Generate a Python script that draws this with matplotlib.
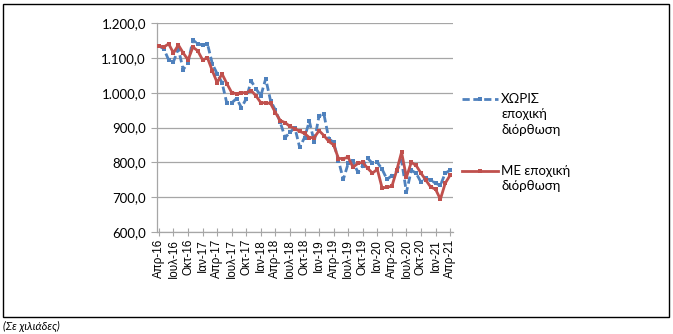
import matplotlib
matplotlib.use('Agg')
import matplotlib.pyplot as plt
import matplotlib.ticker as ticker
from matplotlib.lines import Line2D
from matplotlib.patches import Rectangle
import numpy as np

# Monthly series, Apr-16 .. Apr-21 (thousands)
months = ['Απρ', 'Μαϊ', 'Ιουν', 'Ιουλ', 'Αυγ', 'Σεπ',
          'Οκτ', 'Νοε', 'Δεκ', 'Ιαν', 'Φεβ', 'Μαρ']
without_adj = [1134, 1126, 1094, 1089, 1126, 1066, 1086, 1151, 1140, 1137,
               1140, 1083, 1054, 1029, 969, 971, 983, 957, 983, 1034,
               1011, 991, 1040, 977, 950, 915, 871, 886, 900, 843,
               871, 918, 859, 934, 938, 868, 857, 805, 751, 797,
               803, 771, 790, 812, 797, 800, 780, 751, 762, 775,
               805, 714, 777, 769, 743, 754, 749, 740, 734, 769,
               777]
with_adj = [1134, 1131, 1140, 1114, 1137, 1114, 1094, 1131, 1120, 1094,
            1100, 1063, 1029, 1054, 1026, 1000, 997, 1000, 1000, 1006,
            991, 971, 971, 969, 943, 920, 914, 903, 897, 889,
            883, 871, 871, 891, 877, 860, 850, 811, 811, 814,
            786, 797, 800, 783, 769, 780, 726, 729, 731, 777,
            829, 757, 800, 791, 769, 749, 729, 723, 694, 740,
            763]

labels_all = []
for i in range(len(with_adj)):
    name = months[i % 12]
    yr = 16 + (3 + i) // 12
    labels_all.append(f'{name}-{yr}')

label_font = 'Lato'
blue = '#4f81bd'
red = '#c0504d'
grid_col = '#a6a6a6'

fig = plt.figure(figsize=(6.73, 3.34), dpi=100)
ax = fig.add_axes([157 / 673, 1 - 232 / 334, 296 / 673, 209 / 334])

x = np.arange(len(with_adj))
ax.plot(x, without_adj, color=blue, lw=2.0, dashes=(2.6, 1.3),
        marker='s', markersize=2.6, markeredgewidth=0, zorder=3)
ax.plot(x, with_adj, color=red, lw=2.0,
        marker='s', markersize=3.2, markeredgewidth=0, zorder=4)

ax.set_ylim(600, 1200)
ax.set_xlim(-0.4, 60.6)
ax.yaxis.set_major_locator(ticker.MultipleLocator(100))
ax.yaxis.set_major_formatter(ticker.FuncFormatter(
    lambda v, p: f'{v:,.1f}'.replace(',', 'X').replace('.', ',').replace('X', '.')))

tick_pos = x[::3]
ax.set_xticks(tick_pos)
ax.set_xticklabels([labels_all[i] for i in tick_pos], rotation=90,
                   fontsize=8.4, family='Liberation Sans')

ax.grid(True, axis='y', color=grid_col, lw=0.9)
ax.set_axisbelow(True)
for side in ['top', 'right']:
    ax.spines[side].set_visible(False)
for side in ['left', 'bottom']:
    ax.spines[side].set_color(grid_col)
    ax.spines[side].set_linewidth(0.9)
ax.tick_params(axis='y', length=4, color=grid_col, labelsize=9.5, pad=4)
ax.tick_params(axis='x', length=6, direction='inout', color=grid_col, pad=2)
for t in ax.get_yticklabels():
    t.set_family(label_font)

# legend drawn at the right of the plot
leg_items = [
    (blue, (2.6, 1.3), 2.6, 1 - 99 / 334, 'ΧΩΡΙΣ\nεποχική\nδιόρθωση'),
    (red, None, 3.2, 1 - 171 / 334, 'ΜΕ εποχική\nδιόρθωση'),
]
for col, dash, ms, yy, txt in leg_items:
    ln = Line2D([462 / 673, 498 / 673], [yy, yy], color=col, lw=2.0,
                transform=fig.transFigure)
    if dash:
        ln.set_dashes(dash)
    fig.add_artist(ln)
    fig.add_artist(Line2D([480 / 673], [yy], color=col, marker='s',
                          markersize=ms, markeredgewidth=0,
                          transform=fig.transFigure))
    fig.text(501 / 673, yy + 6 / 334, txt, va='top', ha='left', fontsize=9.5,
             family=label_font, linespacing=1.35)

# outer frame and unit note
fig.add_artist(Rectangle((3 / 673, 1 - 317 / 334), 666 / 673, 313 / 334,
                         fill=False, ec='black', lw=1.0,
                         transform=fig.transFigure))
fig.text(3 / 673, 1 - 326 / 334, '(Σε χιλιάδες)', fontsize=8, style='italic',
         family=label_font, va='center', ha='left')

fig.savefig('out.png', dpi=100)
